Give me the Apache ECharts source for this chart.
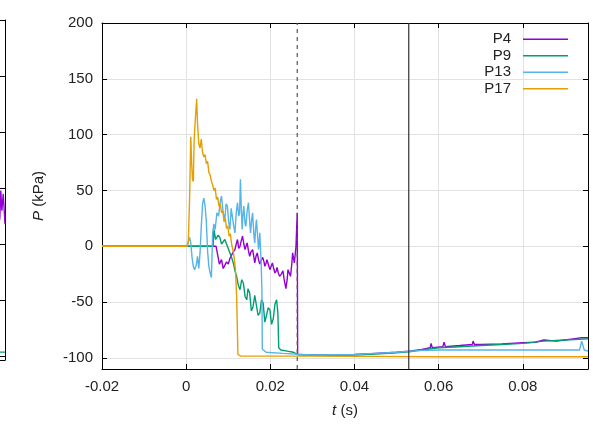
<!DOCTYPE html>
<html>
<head>
<meta charset="utf-8">
<script src="https://cdn.jsdelivr.net/npm/echarts@6/dist/echarts.min.js"></script>
<style>
html, body { margin: 0; padding: 0; background: #fff; }
#chart { width: 593px; height: 425px; }
</style>
</head>
<body>
<div id="chart"></div>
<script>
// tick values
var xTicks = [-0.02, 0, 0.02, 0.04, 0.06, 0.08];
var yTicks = [-100, -50, 0, 50, 100, 150, 200];
var markTimes = [0.0264, 0.0529];
var names = ['P4', 'P9', 'P13', 'P17'];
var colors = ['#9400d3', '#009e73', '#56b4e9', '#e69f00'];

// [t (s), P (kPa)]
var p4 = [[-0.02,0],[0.0071,0],[0.0075,-8],[0.0079,-16],[0.0084,-12],[0.0088,-20],[0.0092,-19],[0.0096,-14],
	[0.0100,-16],[0.0104,-11],[0.0108,-8],[0.0112,-5],[0.0116,-3],[0.0119,2],[0.0122,6],[0.0125,-2],[0.0128,0],
	[0.0131,5],[0.0134,9],[0.0137,2],[0.0140,-3],[0.0143,1],[0.0145,3],[0.0148,-4],[0.0151,-9],[0.0154,-5],
	[0.0158,-3],[0.0161,-10],[0.0163,-15],[0.0166,-9],[0.0169,-6],[0.0172,-12],[0.0175,-16],[0.0178,-13],
	[0.0182,-10],[0.0185,-14],[0.0187,-18],[0.0190,-15],[0.0192,-12],[0.0196,-17],[0.0199,-21],[0.0202,-18],
	[0.0205,-15],[0.0208,-20],[0.0211,-24],[0.0214,-22],[0.0216,-19],[0.0219,-24],[0.0222,-27],[0.0226,-25],
	[0.0230,-22],[0.0233,-30],[0.0237,-38],[0.0240,-30],[0.0242,-21],[0.0245,-24],[0.0248,-27],[0.0251,-16],
	[0.0253,-6],[0.0255,-10],[0.0257,-15],[0.0259,-8],[0.0261,0],[0.0263,20],[0.0264,30],[0.0265,-97],
	[0.0300,-97.5],[0.0350,-97.5],[0.0400,-97],[0.0450,-96],[0.0500,-95],[0.0530,-94],[0.0560,-92.5],
	[0.0580,-91],[0.0582,-87],[0.0585,-91],[0.0610,-90],[0.0613,-86],[0.0616,-90],[0.0650,-89],[0.0680,-88],
	[0.0682,-85],[0.0685,-88],[0.0700,-88],[0.0750,-87.5],[0.0800,-86.5],[0.0830,-86],[0.0850,-84],
	[0.0880,-85],[0.0900,-84],[0.0920,-83],[0.0940,-82],[0.0955,-82]];

var p9 = [[-0.02,0],[0.0064,0],[0.0066,15],[0.0070,6],[0.0073,5],[0.0076,10],[0.0080,8],[0.0084,2],
	[0.0088,3],[0.0092,6],[0.0096,5],[0.0100,-2],[0.0104,-3],[0.0108,-10],[0.0112,-15],[0.0116,-22],
	[0.0120,-27],[0.0124,-35],[0.0128,-39],[0.0132,-30],[0.0136,-33],[0.0140,-45],[0.0144,-48],[0.0147,-38],
	[0.0151,-42],[0.0155,-58],[0.0159,-54],[0.0163,-44],[0.0167,-45],[0.0171,-62],[0.0175,-60],[0.0179,-48],
	[0.0183,-51],[0.0187,-68],[0.0191,-62],[0.0195,-55],[0.0199,-57],[0.0203,-70],[0.0207,-65],[0.0211,-52],
	[0.0215,-48],[0.0218,-60],[0.0220,-91],[0.0225,-93],[0.0240,-94],[0.0255,-95],[0.0265,-97],[0.0300,-97.5],
	[0.0350,-98],[0.0400,-97.5],[0.0450,-96.5],[0.0500,-95.5],[0.0530,-94.5],[0.0560,-93],[0.0600,-91],
	[0.0650,-90],[0.0700,-89],[0.0750,-88],[0.0800,-87],[0.0850,-85],[0.0900,-84],[0.0955,-83]];

var p13 = [[-0.02,0],[0.0002,0],[0.0005,4],[0.0008,8],[0.0011,3],[0.0014,-10],[0.0017,-18],[0.0020,-21],
	[0.0024,-17],[0.0027,-9],[0.0030,-20],[0.0033,-6],[0.0036,18],[0.0039,38],[0.0042,43],[0.0045,36],
	[0.0048,22],[0.0051,-5],[0.0054,-18],[0.0057,-24],[0.0060,-28],[0.0062,-27],[0.0063,12],[0.0066,20],
	[0.0069,15],[0.0073,30],[0.0077,27],[0.0081,40],[0.0084,45],[0.0088,30],[0.0092,24],[0.0095,38],
	[0.0098,36],[0.0101,22],[0.0104,15],[0.0107,34],[0.0110,33],[0.0113,18],[0.0116,12],[0.0119,30],
	[0.0122,39],[0.0125,27],[0.0127,30],[0.0129,60],[0.0131,35],[0.0133,15],[0.0135,28],[0.0137,36],
	[0.0140,20],[0.0142,18],[0.0145,32],[0.0148,39],[0.0151,22],[0.0153,12],[0.0156,25],[0.0158,30],
	[0.0161,10],[0.0163,3],[0.0165,15],[0.0167,24],[0.0170,8],[0.0172,-3],[0.0174,5],[0.0175,12],
	[0.0177,-5],[0.0178,-12],[0.0180,-39],[0.0181,-92],[0.0190,-95],[0.0230,-96],[0.0300,-97.5],
	[0.0400,-97],[0.0450,-96],[0.0500,-95],[0.0550,-93.5],[0.0600,-93],[0.0700,-93],[0.0800,-93],
	[0.0900,-93],[0.0935,-93],[0.0940,-85],[0.0943,-84],[0.0946,-93],[0.0955,-94]];

var p17 = [[-0.02,0],[0.0002,0],[0.0005,3],[0.0008,40],[0.0011,98],[0.0013,75],[0.0015,60],[0.0017,58],
	[0.0019,95],[0.0022,115],[0.0025,132],[0.0027,110],[0.0030,92],[0.0033,88],[0.0036,96],[0.0039,84],
	[0.0042,80],[0.0045,82],[0.0048,74],[0.0051,76],[0.0054,66],[0.0057,64],[0.0060,58],[0.0063,55],
	[0.0066,50],[0.0069,52],[0.0072,42],[0.0075,44],[0.0078,36],[0.0081,38],[0.0084,30],[0.0087,32],
	[0.0090,22],[0.0093,25],[0.0096,16],[0.0099,18],[0.0102,9],[0.0105,11],[0.0108,2],[0.0111,-3],
	[0.0114,-10],[0.0117,-20],[0.0120,-45],[0.0123,-97],[0.0130,-98.5],[0.0300,-98.5],[0.0600,-99],
	[0.0955,-99]];

// edge of the neighbouring panel, cut off on the left
var leftP4 = [[0.0936,35],[0.0940,22],[0.0943,48],[0.0946,30],[0.0950,45],[0.0955,18]];
var leftP9 = [[0.0900,-96],[0.0955,-96]];

var FONT = 'Liberation Sans';
var myChart = echarts.init(document.getElementById('chart'));

function frameX(grid, pos, labels) {
	return {
		type: 'value', gridIndex: grid, position: pos, min: -0.02, max: 0.0955,
		axisLine: { onZero: false, lineStyle: { color: '#000', width: 1 } },
		axisTick: { show: labels !== null, inside: true, length: 5, customValues: xTicks, lineStyle: { color: '#000' } },
		axisLabel: labels ? {
			customValues: xTicks, color: '#222', fontSize: 15, fontFamily: FONT, margin: 10,
			formatter: function(v) { return String(Math.round(v * 100) / 100); }
		} : { show: false },
		splitLine: { show: false }
	};
}

function frameY(grid, pos, min, labels) {
	return {
		type: 'value', gridIndex: grid, position: pos, min: min, max: 200,
		axisLine: { show: true, onZero: false, lineStyle: { color: '#000', width: 1 } },
		axisTick: { show: true, inside: true, length: 5, customValues: yTicks, lineStyle: { color: '#000' } },
		axisLabel: labels ? { customValues: yTicks, color: '#222', fontSize: 15, fontFamily: FONT, margin: 9 } : { show: false },
		splitLine: { show: false }
	};
}

var xMain = frameX(0, 'bottom', true);
xMain.splitLine = { show: true, lineStyle: { color: '#e2e2e2', width: 1 } };
xMain.name = '{i|t} (s)';
xMain.nameLocation = 'middle';
xMain.nameGap = 34;
xMain.nameTextStyle = { color: '#222', fontSize: 15, fontFamily: FONT, rich: { i: { fontStyle: 'italic', fontSize: 15, fontFamily: FONT, color: '#222' } } };

var yMain = frameY(0, 'left', -110, true);
yMain.splitLine = { show: true, lineStyle: { color: '#e2e2e2', width: 1 } };
yMain.name = '{i|P} (kPa)';
yMain.nameLocation = 'middle';
yMain.nameGap = 56;
yMain.nameTextStyle = { color: '#222', fontSize: 15, fontFamily: FONT, rich: { i: { fontStyle: 'italic', fontSize: 15, fontFamily: FONT, color: '#222' } } };

var series = [];
var data = [p4, p9, p13, p17];
for (var i = 0; i < data.length; i++) {
	series.push({
		name: names[i], type: 'line', xAxisIndex: 0, yAxisIndex: 0,
		data: data[i], showSymbol: false, symbol: 'none', silent: true,
		lineStyle: { color: colors[i], width: 1.4 }, itemStyle: { color: colors[i] }
	});
}
// the two vertical markers
series.push({ type: 'line', xAxisIndex: 0, yAxisIndex: 0, symbol: 'none', silent: true, z: 3,
	data: [[markTimes[0], -110], [markTimes[0], 200]],
	lineStyle: { type: [4, 4], color: '#555', width: 1.2 } });
series.push({ type: 'line', xAxisIndex: 0, yAxisIndex: 0, symbol: 'none', silent: true, z: 3,
	data: [[markTimes[1], -110], [markTimes[1], 200]],
	lineStyle: { type: 'solid', color: '#333', width: 1.2 } });
series.push({ type: 'line', xAxisIndex: 2, yAxisIndex: 2, data: leftP4, symbol: 'none', silent: true,
	lineStyle: { color: colors[0], width: 1.4 } });
series.push({ type: 'line', xAxisIndex: 2, yAxisIndex: 2, data: leftP9, symbol: 'none', silent: true,
	lineStyle: { color: colors[1], width: 1.4 } });

var option = {
	animation: false,
	backgroundColor: '#fff',
	grid: [
		{ left: 102, right: 5, top: 23, bottom: 56, outerBoundsMode: 'none' },
		{ left: -400, right: 588, top: 20, bottom: 65, outerBoundsMode: 'none' }
	],
	legend: {
		data: names.map(function(n) { return { name: n, icon: 'rect' }; }),
		orient: 'vertical', align: 'right', right: 20, top: 26,
		itemWidth: 45, itemHeight: 1.5, itemGap: 0, selectedMode: false,
		textStyle: { fontSize: 15, fontFamily: FONT, color: '#222', width: 36, align: 'right', lineHeight: 16.5, padding: [0, 7, 0, 0] }
	},
	xAxis: [xMain, frameX(0, 'top', false), frameX(1, 'bottom', null), frameX(1, 'top', null)],
	yAxis: [yMain, frameY(0, 'right', -110, false), frameY(1, 'right', -103, false)],
	series: series
};
myChart.setOption(option);
</script>
</body>
</html>
